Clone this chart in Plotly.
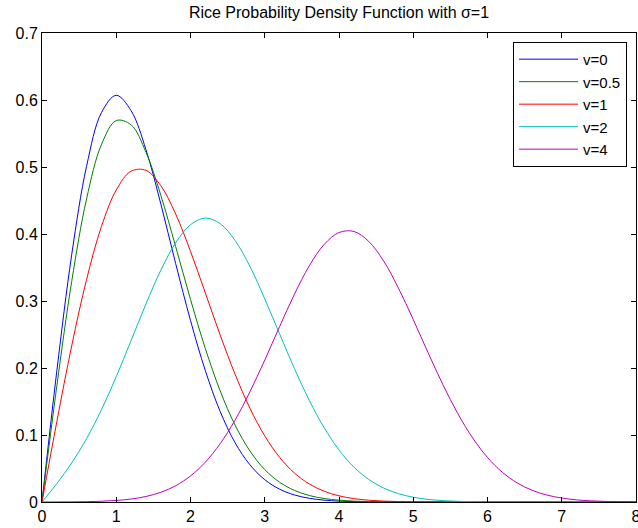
import plotly.graph_objects as go

x = [round(0.2 * i, 1) for i in range(41)]

v0 = [0, 0.196, 0.369, 0.501, 0.581, 0.607, 0.584, 0.526, 0.445, 0.356, 0.271,
      0.196, 0.135, 0.0885, 0.0556, 0.0333, 0.0191, 0.0105, 0.0055, 0.00278, 0.00134,
      0.00062, 0.00027, 0.00012, 0.00005, 0.00002, 0, 0, 0, 0, 0,
      0, 0, 0, 0, 0, 0, 0, 0, 0, 0]
v05 = [0, 0.1734, 0.3291, 0.4523, 0.5333, 0.5693, 0.5629, 0.5222, 0.4579, 0.3813, 0.3024,
       0.2290, 0.1657, 0.1148, 0.0762, 0.0484, 0.0295, 0.01728, 0.0097, 0.00522, 0.0027,
       0.00133, 0.00064, 0.00029, 0.00013, 0.00005, 0.00002, 0, 0, 0, 0,
       0, 0, 0, 0, 0, 0, 0, 0, 0, 0]
v1 = [0, 0.1201, 0.2330, 0.3319, 0.4110, 0.4657, 0.4938, 0.4950, 0.4721, 0.4299, 0.3742,
      0.3119, 0.2491, 0.1908, 0.1401, 0.0987, 0.0667, 0.0432, 0.0269, 0.01606, 0.00919,
      0.00503, 0.00267, 0.00134, 0.00066, 0.00031, 0.00014, 0.00006, 0.00002, 0, 0,
      0, 0, 0, 0, 0, 0, 0, 0, 0, 0]
v2 = [0, 0.0276, 0.0583, 0.0945, 0.1375, 0.1871, 0.2410, 0.2955, 0.3459, 0.3869, 0.4138,
      0.4237, 0.4154, 0.3903, 0.3517, 0.3032, 0.2509, 0.1991, 0.1516, 0.1108, 0.0776,
      0.0521, 0.0337, 0.0209, 0.01245, 0.0071, 0.00389, 0.00205, 0.00104, 0.0005, 0.00023,
      0.0001, 0.000045, 0.000018, 0, 0, 0, 0, 0, 0, 0]
v4 = [0, 0.0000767, 0.000217, 0.000513, 0.00112, 0.0023, 0.00447, 0.00825, 0.01447, 0.02425, 0.03882,
      0.05944, 0.08709, 0.1222, 0.1644, 0.2118, 0.2617, 0.3102, 0.3525, 0.3844, 0.4022,
      0.4038, 0.3890, 0.3599, 0.3194, 0.2723, 0.2228, 0.1750, 0.1320, 0.0956, 0.0665,
      0.0444, 0.0285, 0.01753, 0.01037, 0.00589, 0.00321, 0.00168, 0.00085, 0.00041, 0.00019]

series = [("v=0", v0, "#0000FF"), ("v=0.5", v05, "#008000"), ("v=1", v1, "#FF0000"),
          ("v=2", v2, "#00BFBF"), ("v=4", v4, "#BF00BF")]

x_ticks = [0, 1, 2, 3, 4, 5, 6, 7, 8]
y_ticks = [0, 0.1, 0.2, 0.3, 0.4, 0.5, 0.6, 0.7]
y_tick_labels = ["0", "0.1", "0.2", "0.3", "0.4", "0.5", "0.6", "0.7"]

fig = go.Figure()
for name, ys, col in series:
    fig.add_trace(go.Scatter(x=x, y=ys, mode="lines", name=name,
                             line=dict(color=col, width=1, shape="spline", smoothing=1)))

font = "Liberation Sans, Arial, Helvetica, sans-serif"
axis_common = dict(showline=True, linecolor="black", linewidth=1, mirror="ticks",
                   ticks="inside", ticklen=5, tickcolor="black", showgrid=False,
                   zeroline=False, automargin=False, ticklabeloverflow="allow",
                   tickfont=dict(family=font, size=16, color="black"))

fig.update_layout(
    width=638, height=528,
    margin=dict(l=42, r=2, t=33, b=26),
    paper_bgcolor="white", plot_bgcolor="white",
    title=dict(text="Rice Probability Density Function with σ=1", x=0.5, xref="paper",
               xanchor="center", y=1 - 12.5 / 528, yref="container", yanchor="middle",
               font=dict(family=font, size=16, color="black")),
    xaxis=dict(range=[0, 8], tickvals=x_ticks, **axis_common),
    yaxis=dict(range=[0, 0.7], tickvals=y_ticks, ticktext=y_tick_labels, **axis_common),
    legend=dict(x=0.793, y=0.981, xanchor="left", yanchor="top",
                bordercolor="black", borderwidth=1, bgcolor="white",
                font=dict(family=font, size=15, color="black"),
                tracegroupgap=0, itemwidth=59),
    showlegend=True,
)

fig.write_html("out.html", config={"displayModeBar": False},
               post_script="document.body.style.margin='0';document.body.style.overflow='hidden';")
